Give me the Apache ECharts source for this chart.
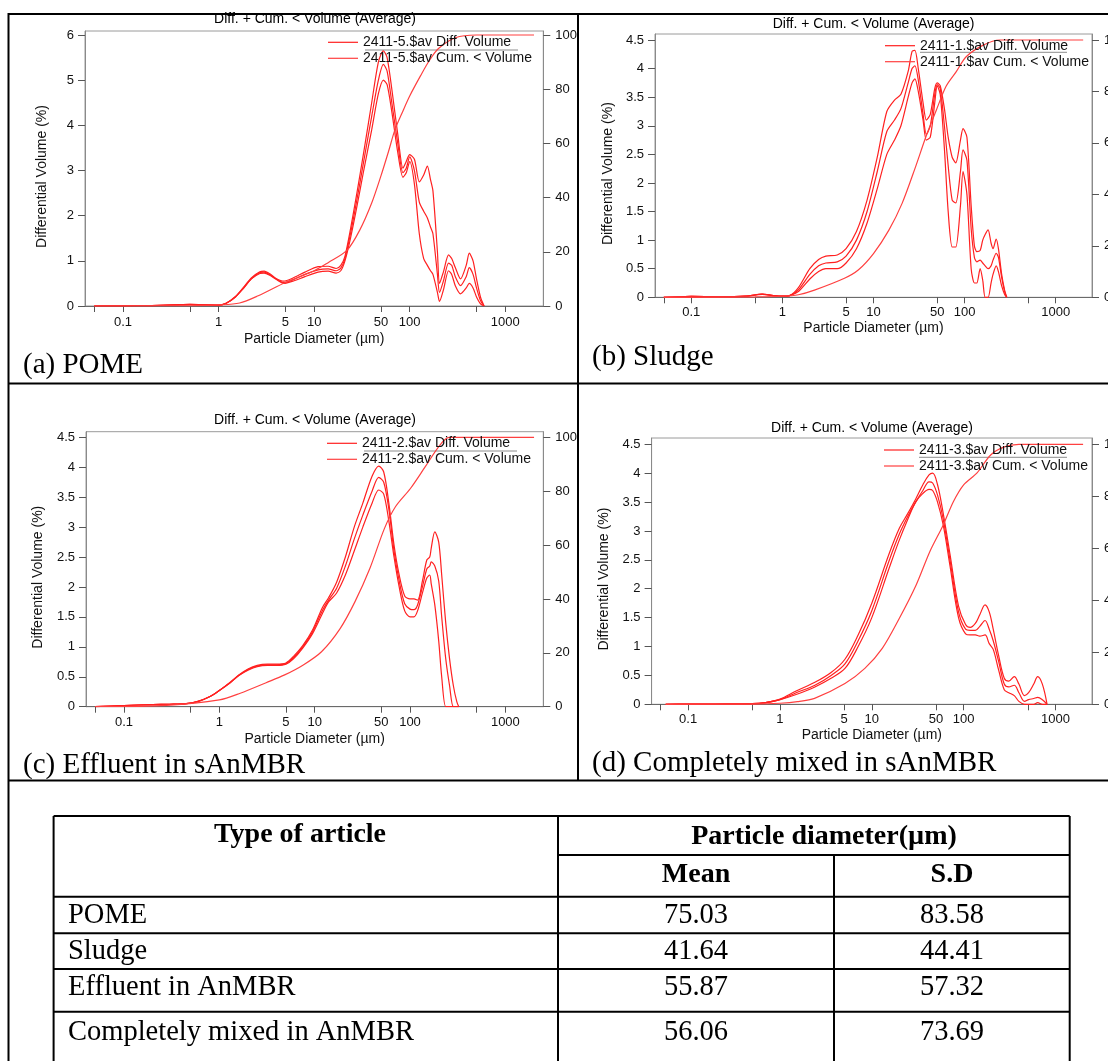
<!DOCTYPE html>
<html><head><meta charset="utf-8">
<script src="https://cdn.jsdelivr.net/npm/echarts@6/dist/echarts.min.js"></script>
<style>html,body{margin:0;padding:0;background:#fff}#c{width:1108px;height:1061px}</style>
</head><body><div id="c"></div>
<script>
// ---------- axis tick values ----------
const xTickVals = [0.05, 0.1, 0.5, 1, 5, 10, 50, 100, 500, 1000];
const xLabelVals = [0.1, 1, 5, 10, 50, 100, 1000];
const yTicksA = [0, 1, 2, 3, 4, 5, 6];
const yTicksB = [0, 0.5, 1, 1.5, 2, 2.5, 3, 3.5, 4, 4.5];
const cumTicks = [0, 20, 40, 60, 80, 100];

// ---------- (a) POME ----------
const pomeD    = [0.05,0.1,0.2,0.35,0.5,0.7,1.0,1.2,1.5,1.8, 2.2,2.7,3.0,3.5,4.0,4.8,6,8,11,14, 17,19,21,24,28,33,40,47,53,58, 65,75,85,92,100,112,126,140,153,165, 175,195,205,225,255,275,300,340,390,420, 460,500,550,600];
const pomeLow  = [0,0.003,0.01,0.025,0.03,0.03,0.02,0.06,0.2,0.38, 0.6,0.72,0.73,0.67,0.59,0.5,0.55,0.65,0.75,0.77, 0.73,0.78,1.0,1.5,2.2,3.0,3.9,4.7,5.0,4.9, 4.3,3.4,2.85,2.95,3.2,2.7,1.6,1.05,0.9,0.78, 0.7,0.3,0.1,0.35,0.78,0.7,0.45,0.27,0.4,0.5, 0.4,0.2,0.05,0];
const pomeMid  = [0,0.003,0.01,0.025,0.035,0.03,0.02,0.06,0.2,0.38, 0.6,0.74,0.75,0.68,0.6,0.52,0.58,0.7,0.8,0.82, 0.78,0.84,1.05,1.6,2.35,3.2,4.2,5.0,5.35,5.2, 4.5,3.6,2.95,3.05,3.3,3.0,2.3,2.1,1.95,1.75, 1.6,0.7,0.3,0.55,0.95,0.9,0.65,0.45,0.65,0.85, 0.7,0.4,0.12,0];
const pomeHigh = [0,0.003,0.01,0.025,0.037,0.03,0.02,0.06,0.21,0.4, 0.62,0.76,0.77,0.7,0.61,0.55,0.62,0.75,0.87,0.88, 0.83,0.9,1.1,1.7,2.5,3.4,4.5,5.4,5.65,5.5, 4.8,3.8,3.05,3.2,3.35,3.25,2.75,2.9,3.1,2.8, 2.55,1.2,0.5,0.75,1.13,1.05,0.85,0.6,0.9,1.17, 1.0,0.6,0.2,0];
const pomeCumD = [0.05,0.5,1,1.66,2.6,5,10,14,22,30,40,50,60,70,85,100,130,160,200,300,500,2000];
const pomeCum  = [0,0.1,0.4,1.1,3.8,8.7,13,16,20.5,28,38,48,57,65,72,77.5,85,90.5,95,99,100,100];

// ---------- (b) Sludge ----------
const sludgeD    = [0.05,0.08,0.1,0.2,0.4,0.6,0.8,1.0,1.2,1.5, 2.0,2.5,3.0,4.0,5.0,6.5,8.5,11,14,17, 20,24,26.5,28.5,31,35,38,42,47,50, 54,60,66,73,80,90,96,106,118,128, 136,148,158,168,181,195,205,222,235,255, 275,290];
const sludgeLow  = [0,0.01,0.015,0.01,0.02,0.05,0.03,0.02,0.03,0.1, 0.32,0.45,0.5,0.5,0.6,0.85,1.3,1.9,2.5,2.75, 3.0,3.5,3.75,3.82,3.6,3.1,2.75,2.8,3.4,3.7, 3.55,2.6,1.5,0.88,0.88,1.6,2.2,1.8,0.5,0.25, 0.25,0.5,0.3,0,0,0.25,0.4,0.55,0.45,0.2, 0.05,0];
const sludgeMid  = [0,0.01,0.015,0.01,0.02,0.055,0.03,0.02,0.03,0.13, 0.4,0.55,0.6,0.62,0.72,1.0,1.5,2.2,2.9,3.1, 3.3,3.75,4.0,4.05,3.8,3.2,2.85,3.0,3.55,3.72, 3.65,3.0,2.3,1.7,1.65,2.2,2.58,2.4,1.2,0.7, 0.62,0.65,0.6,0.55,0.5,0.55,0.65,0.77,0.7,0.35, 0.1,0];
const sludgeHigh = [0,0.01,0.015,0.01,0.02,0.058,0.03,0.02,0.03,0.17, 0.5,0.66,0.72,0.74,0.85,1.15,1.7,2.45,3.25,3.45, 3.55,3.95,4.3,4.32,4.0,3.4,3.1,3.2,3.65,3.75, 3.7,3.3,2.8,2.45,2.35,2.75,2.95,2.8,1.6,0.9, 0.8,0.82,1.0,1.1,1.18,0.95,0.85,1.02,0.85,0.4, 0.12,0];
const sludgeCumD = [0.05,0.5,1,1.5,2.25,4.8,6.8,10,14.7,20.6,29,37.6,49,62.6,81,104,160,243,2000];
const sludgeCum  = [0,0.2,0.4,1,2.8,7.4,10.6,17,26,36.5,50.8,62.4,72.8,82,87.7,93.5,98,100,100];

// ---------- (c) Effluent in sAnMBR ----------
const effD    = [0.05,0.1,0.2,0.3,0.45,0.6,0.8,1.0,1.3,1.6, 2.0,2.5,3.2,4.0,5.0,6.0,7.5,9.5,12,14, 17,21,26,32,40,47,53,60,68,77, 88,100,110,120,135,150,161,167,182,200, 215,237,260,285,310,325];
const effLow  = [0,0.02,0.035,0.04,0.05,0.09,0.17,0.27,0.4,0.52, 0.61,0.67,0.69,0.69,0.71,0.8,0.98,1.22,1.55,1.75, 1.9,2.2,2.6,3.0,3.4,3.62,3.55,3.1,2.5,2.0, 1.6,1.5,1.5,1.6,1.9,2.15,2.2,2.05,1.7,1.1, 0.5,0,0,0,0,0];
const effMid  = [0,0.02,0.035,0.04,0.05,0.09,0.17,0.27,0.4,0.52, 0.62,0.68,0.7,0.7,0.72,0.82,1.0,1.25,1.6,1.78, 1.98,2.35,2.8,3.2,3.6,3.83,3.75,3.3,2.6,2.1, 1.72,1.63,1.62,1.7,2.0,2.3,2.35,2.42,2.35,2.1, 1.5,0.8,0.35,0,0,0];
const effHigh = [0,0.02,0.035,0.04,0.05,0.09,0.17,0.27,0.41,0.53, 0.63,0.69,0.71,0.71,0.73,0.84,1.02,1.28,1.65,1.82, 2.08,2.5,3.0,3.4,3.85,4.02,3.92,3.4,2.7,2.2, 1.85,1.8,1.8,1.78,2.1,2.45,2.5,2.65,2.92,2.75, 2.2,1.4,0.8,0.35,0.08,0];
const effCumD = [0.05,0.28,1,1.66,3.1,4.85,7.6,11.8,18.5,26.5,38,54,70.6,101,144,205,257,2000];
const effCum  = [0,0.5,2.5,5,8.9,11.8,15.5,20.4,29,39,51.4,66.2,74.3,81,89,97,100,100];

// ---------- (d) Completely mixed in sAnMBR ----------
const mixD    = [0.057,0.1,0.2,0.5,0.7,1,1.5,2.4,3.6,5.1, 7.1,10,15.4,20,24.6,30,36,42,46,52, 60,71,88,105,118,134,150,171,190,210, 240,277,310,356,400,460,510,580,640,720, 810];
const mixLow  = [0,0.003,0.005,0.01,0.03,0.08,0.17,0.3,0.45,0.62, 1.0,1.5,2.35,2.85,3.2,3.5,3.65,3.72,3.7,3.5, 3.1,2.4,1.5,1.22,1.2,1.2,1.18,1.2,1.05,0.95, 0.6,0.25,0.2,0.15,0.05,0,0,0,0.03,0,0];
const mixMid  = [0,0.003,0.005,0.01,0.03,0.08,0.2,0.33,0.5,0.7, 1.1,1.62,2.48,2.95,3.25,3.5,3.7,3.85,3.83,3.62, 3.2,2.5,1.6,1.3,1.28,1.28,1.35,1.45,1.3,1.1, 0.75,0.35,0.3,0.33,0.2,0.05,0.08,0.1,0.12,0.08,0];
const mixHigh = [0,0.003,0.005,0.01,0.03,0.09,0.23,0.38,0.55,0.78, 1.2,1.75,2.6,3.05,3.3,3.55,3.8,3.97,4.0,3.8, 3.3,2.6,1.7,1.38,1.33,1.4,1.55,1.72,1.6,1.3, 0.85,0.45,0.4,0.48,0.35,0.15,0.2,0.35,0.48,0.35,0];
const mixCumD = [0.057,0.5,1,1.55,2.38,5.1,8.4,13,19.9,30.5,42.8,60,77.5,100,140,197,277,400,2000];
const mixCum  = [0,0.1,0.4,1,2.3,8,13.8,21.5,33,46,58.7,69,78,84.4,89,95.9,99,100,100];

// ---------- names & texts ----------
const diffNames = ['2411-5.$av Diff. Volume','2411-1.$av Diff. Volume','2411-2.$av Diff. Volume','2411-3.$av Diff. Volume'];
const cumNames  = ['2411-5.$av Cum. < Volume','2411-1.$av Cum. < Volume','2411-2.$av Cum. < Volume','2411-3.$av Cum. < Volume'];
const panelLabels = ['(a) POME','(b) Sludge','(c) Effluent in sAnMBR','(d) Completely mixed in sAnMBR'];
const chartTitle = 'Diff. + Cum. < Volume (Average)';
const xName = 'Particle Diameter (\u00b5m)';
const yName = 'Differential Volume (%)';

// ---------- table ----------
const tableHead1 = 'Type of article';
const tableHead2 = 'Particle diameter(\u00b5m)';
const tableSub = ['Mean','S.D'];
const tableTypes = ['POME','Sludge','Effluent in AnMBR','Completely mixed in AnMBR'];
const tableMean = ['75.03','41.64','55.87','56.06'];
const tableSD   = ['83.58','44.41','57.32','73.69'];

// ---------- layout ----------
const SANS = "'Liberation Sans', Arial, sans-serif";
const SERIF = "'Liberation Serif', 'Times New Roman', serif";
const panels = [
  {D:pomeD, lo:pomeLow, mi:pomeMid, hi:pomeHigh, cD:pomeCumD, c:pomeCum, yT:yTicksA,
   grid:{left:85, top:31, width:458.3, height:275}, yMax:6.089, cMax:101.48, smooth:0.25,
   leg:{left:328, top:35.3}, ul:[365,518,50], title:[315,19], lab:[23,365], yGap:36, xGap:26, xMargin:10},
  {D:sludgeD, lo:sludgeLow, mi:sludgeMid, hi:sludgeHigh, cD:sludgeCumD, c:sludgeCum, yT:yTicksB,
   grid:{left:655, top:34, width:437, height:263.3}, yMax:4.605, cMax:102.33, smooth:0.25,
   leg:{left:885, top:38.7}, ul:[920,1067,52.3], title:[873.6,24], lab:[592,357], yGap:40, xGap:24, xMargin:9},
  {D:effD, lo:effLow, mi:effMid, hi:effHigh, cD:effCumD, c:effCum, yT:yTicksB,
   grid:{left:86, top:431.7, width:457.3, height:275}, yMax:4.5935, cMax:102.08, smooth:0.3,
   leg:{left:327, top:436.3}, ul:[364,517,451], title:[315,420], lab:[23,765], yGap:41, xGap:25, xMargin:9},
  {D:mixD, lo:mixLow, mi:mixMid, hi:mixHigh, cD:mixCumD, c:mixCum, yT:yTicksB,
   grid:{left:651.6, top:438, width:440.4, height:266.3}, yMax:4.609, cMax:102.42, smooth:0.35,
   leg:{left:884, top:443}, ul:[919,1067,457.3], title:[872,427.7], lab:[592,763], yGap:40, xGap:24, xMargin:8.5}
];

const DIFF_COLOR = '#ff2020';
const CUM_COLOR = '#ff4040';
const zip = (xs, ys) => xs.map((x, i) => [x, ys[i]]);
const fmtNum = v => String(+Number(v).toPrecision(6));

const grids = [], xAxes = [], yAxes = [], series = [], legends = [], graphics = [];
const txt = (x, y, text, font, align, extra) => Object.assign({
  type:'text', x:x, y:y, silent:true,
  style:{text:text, font:font, fill:'#000', align:align||'center', verticalAlign:'middle',
         textAlign:align||'center', textVerticalAlign:'middle'}
}, extra||{});
const ln = (x1, y1, x2, y2, w, col) => ({type:'line', silent:true, shape:{x1:x1,y1:y1,x2:x2,y2:y2},
  style:{stroke:col||'#000', lineWidth:w||2}});

panels.forEach((p, i) => {
  grids.push(Object.assign({show:true, borderColor:'#9a9a9a', borderWidth:1, backgroundColor:'transparent',
    containLabel:false, outerBoundsMode:'none'}, p.grid));
  xAxes.push({
    type:'log', logBase:10, gridIndex:i, min:0.04, max:2500,
    axisLine:{show:true, lineStyle:{color:'#6a6a6a', width:1}},
    axisTick:{show:true, customValues:xTickVals, length:6, lineStyle:{color:'#555'}},
    axisLabel:{show:true, customValues:xLabelVals, margin:p.xMargin, color:'#111', fontSize:13, fontFamily:SANS, formatter:fmtNum},
    splitLine:{show:false}, minorTick:{show:false}, minorSplitLine:{show:false},
    name:xName, nameLocation:'middle', nameGap:p.xGap,
    nameTextStyle:{color:'#111', fontSize:14, fontFamily:SANS}
  });
  yAxes.push({
    type:'value', gridIndex:i, position:'left', min:0, max:p.yMax,
    axisLine:{show:true, lineStyle:{color:'#8a8a8a'}},
    axisTick:{show:true, customValues:p.yT, length:7, lineStyle:{color:'#555'}},
    axisLabel:{customValues:p.yT, margin:11, color:'#111', fontSize:13, fontFamily:SANS},
    splitLine:{show:false},
    name:yName, nameLocation:'middle', nameRotate:90, nameGap:p.yGap,
    nameTextStyle:{color:'#111', fontSize:14, fontFamily:SANS, padding:[0,16,0,0]}
  });
  yAxes.push({
    type:'value', gridIndex:i, position:'right', min:0, max:p.cMax,
    axisLine:{show:true, lineStyle:{color:'#8a8a8a'}},
    axisTick:{show:true, customValues:cumTicks, length:7, lineStyle:{color:'#555'}},
    axisLabel:{customValues:cumTicks, margin:12, color:'#111', fontSize:13, fontFamily:SANS},
    splitLine:{show:false}
  });
  [p.lo, p.mi, p.hi].forEach(arr => series.push({
    type:'line', name:diffNames[i], xAxisIndex:i, yAxisIndex:2*i, data:zip(p.D, arr),
    symbol:'none', showSymbol:false, smooth:p.smooth, silent:true,
    lineStyle:{color:DIFF_COLOR, width:1.2}, itemStyle:{color:DIFF_COLOR}
  }));
  series.push({
    type:'line', name:cumNames[i], xAxisIndex:i, yAxisIndex:2*i+1, data:zip(p.cD, p.c),
    symbol:'none', showSymbol:false, smooth:0.3, silent:true,
    lineStyle:{color:CUM_COLOR, width:1.2}, itemStyle:{color:CUM_COLOR}
  });
  legends.push({
    data:[diffNames[i], cumNames[i]], orient:'vertical', left:p.leg.left, top:p.leg.top,
    padding:0, itemGap:2, itemWidth:30, itemHeight:1.2, icon:'rect', selectedMode:false,
    textStyle:{color:'#111', fontSize:14, fontFamily:SANS, lineHeight:14}
  });
  graphics.push(ln(p.ul[0], p.ul[2], p.ul[1], p.ul[2], 1, '#8c8c8c'));
  graphics.push(txt(p.title[0], p.title[1], chartTitle, '14px ' + SANS, 'center'));
  graphics.push(txt(p.lab[0], p.lab[1], panelLabels[i], '29px ' + SERIF, 'left'));
});

// frame lines
graphics.push(ln(8, 14, 1108, 14, 2));
graphics.push(ln(8.5, 13, 8.5, 1061, 2));
graphics.push(ln(578, 13, 578, 781, 2));
graphics.push(ln(8, 383.5, 1108, 383.5, 2));
graphics.push(ln(8, 780.5, 1108, 780.5, 2));

// table
const tL = 53.6, tR = 1069.7, tC1 = 558, tC2 = 834, tTop = 816, tBot = 1061;
const rowLines = [896.7, 933.3, 969, 1011.7];
graphics.push(ln(tL, tTop, tR, tTop, 2));
graphics.push(ln(tC1, 855, tR, 855, 2));
rowLines.forEach(y => graphics.push(ln(tL, y, tR, y, 2)));
graphics.push(ln(tL, tTop, tL, tBot, 2));
graphics.push(ln(tC1, tTop, tC1, tBot, 2));
graphics.push(ln(tC2, 855, tC2, tBot, 2));
graphics.push(ln(tR, tTop, tR, tBot, 2));
graphics.push(txt(300, 835, tableHead1, 'bold 28px ' + SERIF, 'center'));
graphics.push(txt(824, 836.7, tableHead2, 'bold 28px ' + SERIF, 'center'));
graphics.push(txt(696, 875, tableSub[0], 'bold 28px ' + SERIF, 'center'));
graphics.push(txt(952, 875, tableSub[1], 'bold 28px ' + SERIF, 'center'));
const rowY = [916, 952, 988, 1033];
tableTypes.forEach((t, i) => {
  graphics.push(txt(68, rowY[i], t, '28.5px ' + SERIF, 'left'));
  graphics.push(txt(696, rowY[i], tableMean[i], '28.5px ' + SERIF, 'center'));
  graphics.push(txt(952, rowY[i], tableSD[i], '28.5px ' + SERIF, 'center'));
});

const chart = echarts.init(document.getElementById('c'), null, {renderer:'canvas', width:1108, height:1061});
chart.setOption({
  animation:false, backgroundColor:'#fff',
  grid:grids, xAxis:xAxes, yAxis:yAxes, series:series, legend:legends,
  tooltip:{show:false},
  graphic:{elements:graphics}
});
</script></body></html>
